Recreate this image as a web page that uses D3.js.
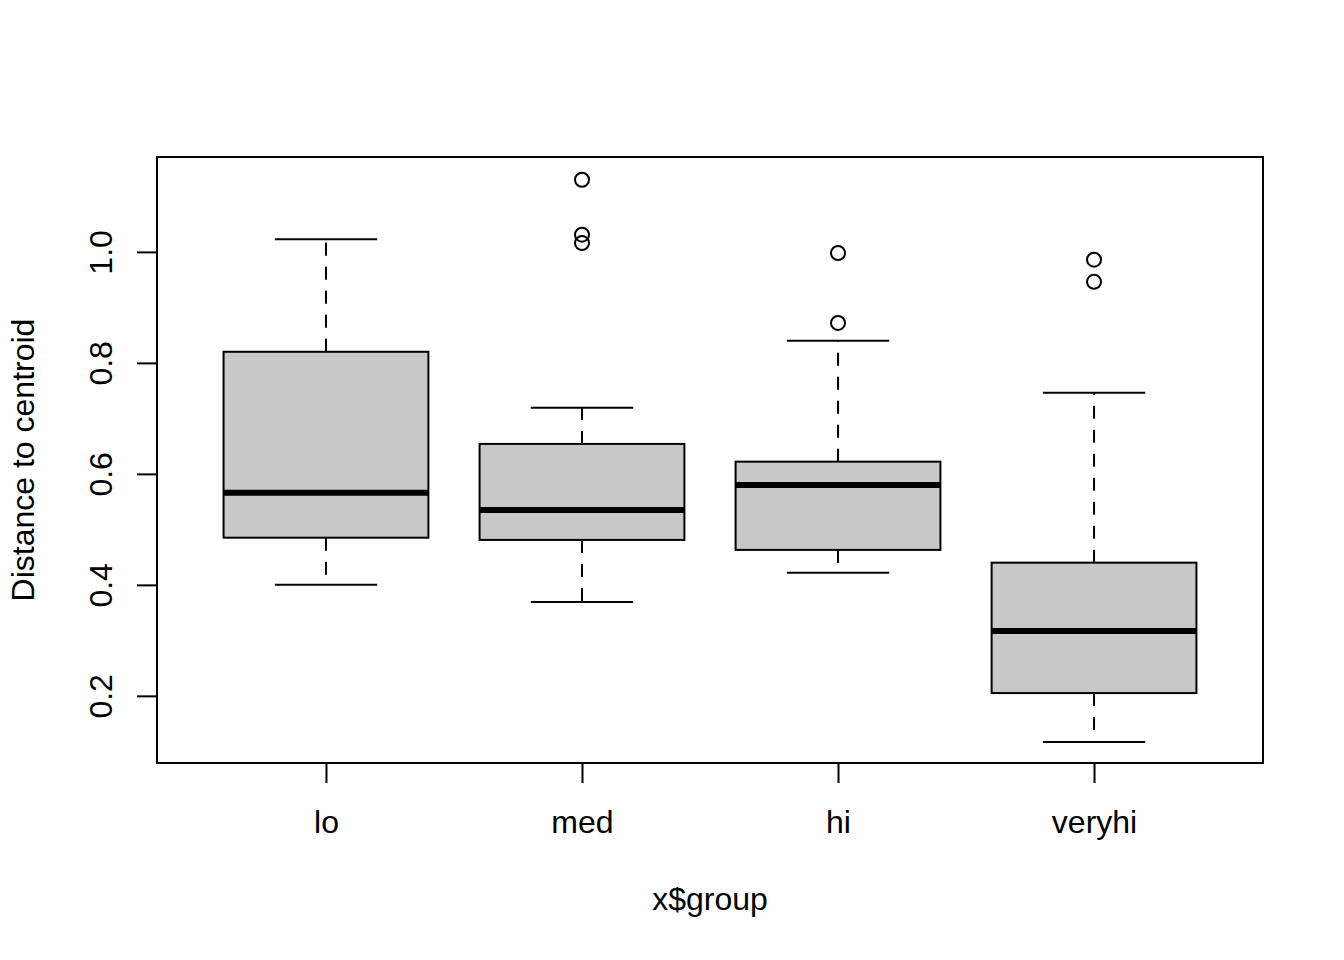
<!DOCTYPE html>
<html>
  <head>
    <meta charset="utf-8" />
    <script src="https://cdn.jsdelivr.net/npm/d3@7"></script>
    <style>
      body { margin: 0; background: #fff; }
      text { font-family: "Liberation Sans", Arial, sans-serif; fill: #000; }
    </style>
  </head>
  <body>
    <script>
      // box statistics per group
      const groups = ["lo", "med", "hi", "veryhi"];
      const lowerWhisker = [0.400, 0.369, 0.422, 0.117];
      const q1 = [0.485, 0.481, 0.463, 0.205];
      const median = [0.566, 0.535, 0.580, 0.317];
      const q3 = [0.820, 0.654, 0.622, 0.440];
      const upperWhisker = [1.023, 0.719, 0.840, 0.746];
      const outliers = [[], [1.130, 1.031, 1.016], [0.998, 0.872], [0.986, 0.946]];
      const yTicks = [0.2, 0.4, 0.6, 0.8, 1.0];

      const W = 1344, H = 960;
      const plot = { left: 157, right: 1263, top: 157, bottom: 763 };

      const svg = d3.select("body").append("svg")
        .attr("width", W)
        .attr("height", H);

      svg.append("rect").attr("width", W).attr("height", H).attr("fill", "#fff");

      // x: group index, y: distance
      const xScale = d3.scaleLinear()
        .domain([1 - 0.66, groups.length + 0.66])
        .range([plot.left, plot.right]);

      const yScale = d3.scaleLinear()
        .domain([0.079, 1.171])
        .range([plot.bottom, plot.top]);

      const boxW = 0.8, capW = 0.4;

      const data = groups.map(function (g, i) {
        return {
          i: i + 1, name: g,
          lw: lowerWhisker[i], q1: q1[i], med: median[i], q3: q3[i], uw: upperWhisker[i],
          out: outliers[i]
        };
      });

      const boxes = svg.append("g").selectAll("g")
        .data(data)
        .enter()
        .append("g");

      // whiskers (dashed), drawn from the box out to the whisker end
      boxes.append("line")
        .attr("x1", d => xScale(d.i)).attr("x2", d => xScale(d.i))
        .attr("y1", d => yScale(d.q3)).attr("y2", d => yScale(d.uw))
        .attr("stroke", "#000").attr("stroke-width", 2).attr("stroke-dasharray", "13,11");
      boxes.append("line")
        .attr("x1", d => xScale(d.i)).attr("x2", d => xScale(d.i))
        .attr("y1", d => yScale(d.q1)).attr("y2", d => yScale(d.lw))
        .attr("stroke", "#000").attr("stroke-width", 2).attr("stroke-dasharray", "13,11");

      // staples
      boxes.append("line")
        .attr("x1", d => xScale(d.i - capW / 2)).attr("x2", d => xScale(d.i + capW / 2))
        .attr("y1", d => yScale(d.uw)).attr("y2", d => yScale(d.uw))
        .attr("stroke", "#000").attr("stroke-width", 2);
      boxes.append("line")
        .attr("x1", d => xScale(d.i - capW / 2)).attr("x2", d => xScale(d.i + capW / 2))
        .attr("y1", d => yScale(d.lw)).attr("y2", d => yScale(d.lw))
        .attr("stroke", "#000").attr("stroke-width", 2);

      // boxes
      boxes.append("rect")
        .attr("x", d => xScale(d.i - boxW / 2))
        .attr("width", d => xScale(d.i + boxW / 2) - xScale(d.i - boxW / 2))
        .attr("y", d => yScale(d.q3))
        .attr("height", d => yScale(d.q1) - yScale(d.q3))
        .attr("fill", "#c8c8c8")
        .attr("stroke", "#000")
        .attr("stroke-width", 2);

      // medians
      boxes.append("line")
        .attr("x1", d => xScale(d.i - boxW / 2)).attr("x2", d => xScale(d.i + boxW / 2))
        .attr("y1", d => yScale(d.med)).attr("y2", d => yScale(d.med))
        .attr("stroke", "#000").attr("stroke-width", 6);

      // outliers
      boxes.selectAll("circle")
        .data(d => d.out.map(v => ({ i: d.i, v: v })))
        .enter()
        .append("circle")
        .attr("cx", d => xScale(d.i))
        .attr("cy", d => yScale(d.v))
        .attr("r", 7)
        .attr("fill", "none")
        .attr("stroke", "#000")
        .attr("stroke-width", 2);

      // axes
      const yAxis = d3.axisLeft(yScale)
        .tickValues(yTicks)
        .tickFormat(d3.format(".1f"))
        .tickSize(20)
        .tickSizeOuter(0);
      const gy = svg.append("g")
        .attr("transform", "translate(" + plot.left + ",0)")
        .call(yAxis);
      gy.select(".domain").remove();
      gy.selectAll("line").attr("stroke", "#000").attr("stroke-width", 2);
      gy.selectAll("text")
        .attr("x", 0).attr("dy", 0)
        .attr("text-anchor", "middle")
        .attr("transform", "translate(-45,0) rotate(-90)")
        .style("font-size", "32px")
        .style("font-family", "'Liberation Sans', Arial, sans-serif")
        .attr("fill", "#000");

      const xAxis = d3.axisBottom(xScale)
        .tickValues(data.map(d => d.i))
        .tickFormat(i => groups[i - 1])
        .tickSize(20)
        .tickSizeOuter(0);
      const gx = svg.append("g")
        .attr("transform", "translate(0," + plot.bottom + ")")
        .call(xAxis);
      gx.select(".domain").remove();
      gx.selectAll("line").attr("stroke", "#000").attr("stroke-width", 2);
      gx.selectAll("text")
        .attr("y", 70).attr("dy", 0)
        .style("font-size", "32px")
        .style("font-family", "'Liberation Sans', Arial, sans-serif")
        .attr("fill", "#000");

      // frame
      svg.append("rect")
        .attr("x", plot.left).attr("y", plot.top)
        .attr("width", plot.right - plot.left)
        .attr("height", plot.bottom - plot.top)
        .attr("fill", "none")
        .attr("stroke", "#000")
        .attr("stroke-width", 2);

      // axis titles
      svg.append("text")
        .attr("x", (plot.left + plot.right) / 2)
        .attr("y", 910)
        .attr("text-anchor", "middle")
        .style("font-size", "32px")
        .text("x$group");

      svg.append("text")
        .attr("transform", "translate(34," + (plot.top + plot.bottom) / 2 + ") rotate(-90)")
        .attr("text-anchor", "middle")
        .style("font-size", "32px")
        .text("Distance to centroid");
    </script>
  </body>
</html>
